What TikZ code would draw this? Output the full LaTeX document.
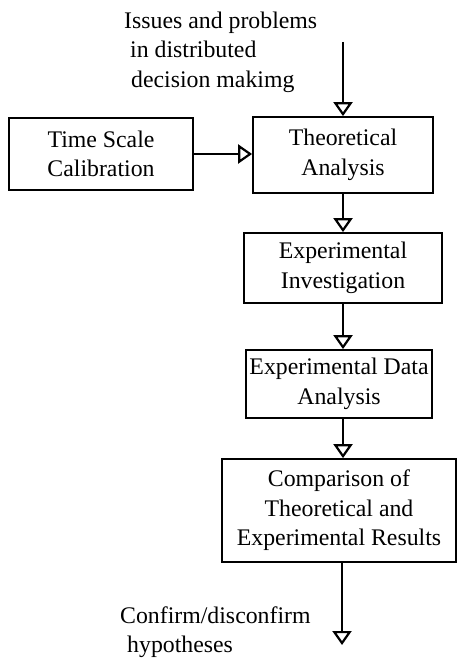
\documentclass[tikz,border=0pt]{standalone}
\usepackage{fontspec}
\setmainfont{Liberation Serif}
\usetikzlibrary{arrows.meta}
\begin{document}
\begin{tikzpicture}[x=1pt,y=-1pt,
  box/.style={draw,line width=1.8pt,align=center,inner sep=0pt,font=\fontsize{23.8}{29.5}\selectfont},
  lbl/.style={align=left,inner sep=0pt,font=\fontsize{23.8}{29.5}\selectfont},
  arr/.style={line width=2.2pt,-{Triangle[open,length=14pt,width=19pt,line width=2.2pt]}}]
\useasboundingbox (0,0) rectangle (457,658);
\node[lbl,anchor=west] (issues) at (124,52) {Issues and problems\\\hspace{6pt}in distributed\\\hspace{7pt}decision makimg};
\coordinate (top) at (343,42);
\node[box,minimum width=184pt,minimum height=72pt] (tsc) at (101,154) {Time Scale\\Calibration};
\node[box,minimum width=180pt,minimum height=76pt] (ta) at (343,155) {Theoretical\\Analysis};
\node[box,minimum width=198pt,minimum height=70pt] (ei) at (343,268) {Experimental\\Investigation};
\node[box,minimum width=186pt,minimum height=68pt] (eda) at (339,384) {Experimental Data\\Analysis};
\node[box,minimum width=234pt,minimum height=103pt] (cmp) at (339,510.5) {Comparison of\\Theoretical and\\Experimental Results};
\coordinate (end) at (342,645);
\node[lbl,anchor=west] (conf) at (120,632) {Confirm/disconfirm\\\hspace{7pt}hypotheses};
\draw[arr] (top) -- (ta.north -| top);
\draw[arr] (tsc.east) -- (ta.west |- tsc.east);
\draw[arr] (ta.south -| top) -- (ei.north -| top);
\draw[arr] (ei.south -| top) -- (eda.north -| top);
\draw[arr] (eda.south -| top) -- (cmp.north -| top);
\draw[arr] (cmp.south -| end) -- (end);
\end{tikzpicture}
\end{document}
